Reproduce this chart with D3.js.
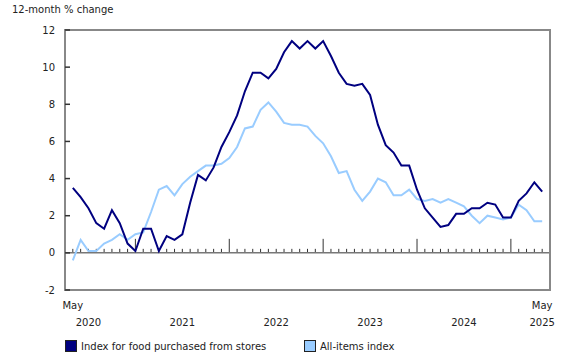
<!DOCTYPE html>
<html>
<head>
<meta charset="utf-8">
<script src="https://cdn.jsdelivr.net/npm/d3@7/dist/d3.min.js"></script>
<style>
  html, body { margin: 0; padding: 0; background: #fff; }
  svg text { font-family: "DejaVu Sans", Verdana, sans-serif; font-size: 10px; fill: #222; }
</style>
</head>
<body>
<svg id="chart" width="580" height="360"></svg>
<script>
// Monthly periods, May 2020 to May 2025
const startYear = 2020, startMonth = 5;
const months = d3.range(61).map(i => {
  const m = (startMonth - 1 + i) % 12 + 1;
  const y = startYear + Math.floor((startMonth - 1 + i) / 12);
  return { year: y, month: m };
});

// Index for food purchased from stores (12-month % change)
const food = [
  3.5, 3.0, 2.4, 1.6, 1.3, 2.3, 1.6, 0.5,
  0.1, 1.3, 1.3, 0.1, 0.9, 0.7, 1.0, 2.7, 4.2, 3.9, 4.6, 5.7,
  6.5, 7.4, 8.7, 9.7, 9.7, 9.4, 9.9, 10.8, 11.4, 11.0, 11.4, 11.0,
  11.4, 10.6, 9.7, 9.1, 9.0, 9.1, 8.5, 6.9, 5.8, 5.4, 4.7, 4.7,
  3.4, 2.4, 1.9, 1.4, 1.5, 2.1, 2.1, 2.4, 2.4, 2.7, 2.6, 1.9,
  1.9, 2.8, 3.2, 3.8, 3.3
];

// All-items index (12-month % change)
const allItems = [
  -0.4, 0.7, 0.1, 0.1, 0.5, 0.7, 1.0, 0.7,
  1.0, 1.1, 2.2, 3.4, 3.6, 3.1, 3.7, 4.1, 4.4, 4.7, 4.7, 4.8,
  5.1, 5.7, 6.7, 6.8, 7.7, 8.1, 7.6, 7.0, 6.9, 6.9, 6.8, 6.3,
  5.9, 5.2, 4.3, 4.4, 3.4, 2.8, 3.3, 4.0, 3.8, 3.1, 3.1, 3.4,
  2.9, 2.8, 2.9, 2.7, 2.9, 2.7, 2.5, 2.0, 1.6, 2.0, 1.9, 1.8,
  1.9, 2.6, 2.3, 1.7, 1.7
];

const yTicks = [-2, 0, 2, 4, 6, 8, 10, 12];
const seriesNames = ["Index for food purchased from stores", "All-items index"];
const seriesColors = ["#000080", "#99ccff"];
const yTitle = "12-month % change";
const monthNames = ["Jan","Feb","Mar","Apr","May","Jun","Jul","Aug","Sep","Oct","Nov","Dec"];

const svg = d3.select("#chart");
const mLeft = 65, mRight = 550, mTop = 30, mBottom = 290;

const x = d3.scaleLinear().domain([-1, months.length]).range([mLeft, mRight]);
const y = d3.scaleLinear().domain([-2, 12]).range([mBottom, mTop]);

// Y title
svg.append("text").attr("x", 12).attr("y", 13).text(yTitle);

// Y tick labels
svg.append("g").selectAll("text").data(yTicks).join("text")
  .attr("x", 55).attr("y", d => y(d) + 3.5)
  .attr("text-anchor", "end").text(d => d);

// Month ticks on zero line
svg.append("g").selectAll("line").data(months).join("line")
  .attr("x1", (d, i) => x(i)).attr("x2", (d, i) => x(i))
  .attr("y1", y(0))
  .attr("y2", d => d.month === 1 ? y(0) - 14 : y(0) - 4)
  .attr("stroke", "#333").attr("stroke-width", 1);

// Zero line
svg.append("line").attr("x1", mLeft).attr("x2", mRight)
  .attr("y1", y(0)).attr("y2", y(0))
  .attr("stroke", "#777").attr("stroke-width", 1.5);

// Frame
svg.append("rect").attr("x", mLeft).attr("y", mTop)
  .attr("width", mRight - mLeft).attr("height", mBottom - mTop)
  .attr("fill", "none").attr("stroke", "#888").attr("stroke-width", 2);

// Y ticks
svg.append("g").selectAll("line").data(yTicks).join("line")
  .attr("x1", mLeft).attr("x2", mLeft + 5)
  .attr("y1", d => y(d)).attr("y2", d => y(d))
  .attr("stroke", "#333").attr("stroke-width", 1.5);

// Lines
const line = d3.line().x((d, i) => x(i)).y(d => y(d));
svg.append("path").datum(allItems).attr("d", line)
  .attr("fill", "none").attr("stroke", seriesColors[1]).attr("stroke-width", 2);
svg.append("path").datum(food).attr("d", line)
  .attr("fill", "none").attr("stroke", seriesColors[0]).attr("stroke-width", 2);

// X labels
const xl = svg.append("g");
const first = months[0], last = months[months.length - 1];
xl.append("text").attr("x", x(0)).attr("y", 309).attr("text-anchor", "middle")
  .text(monthNames[first.month - 1]);
xl.append("text").attr("x", x(months.length - 1)).attr("y", 309).attr("text-anchor", "middle")
  .text(monthNames[last.month - 1]);
const yearLabels = [];
months.forEach((d, i) => { if (d.month === 7) yearLabels.push({ label: d.year, i }); });
yearLabels.push({ label: last.year, i: months.length - 1 });
xl.selectAll("text.yr").data(yearLabels).join("text").attr("class", "yr")
  .attr("x", d => x(d.i)).attr("y", 326).attr("text-anchor", "middle")
  .text(d => d.label);

// Legend
const legendX = [65, 304];
seriesNames.forEach((n, k) => {
  const g = svg.append("g").attr("transform", `translate(${legendX[k]},340)`);
  g.append("rect").attr("x", 0.5).attr("y", 0.5).attr("width", 11).attr("height", 11)
    .attr("fill", seriesColors[k]).attr("stroke", "#222").attr("stroke-width", 1);
  g.append("text").attr("x", 16).attr("y", 10).text(n);
});
</script>
</body>
</html>
